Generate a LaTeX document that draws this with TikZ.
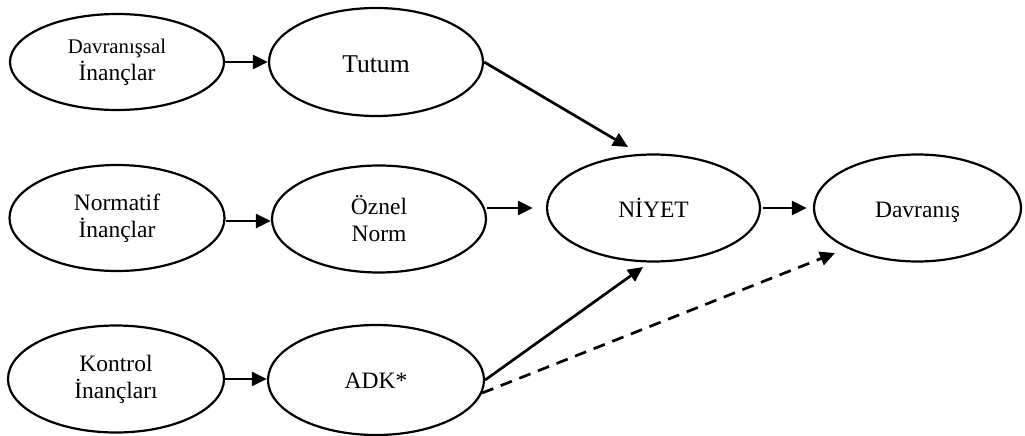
\documentclass[tikz,border=0pt]{standalone}
\usepackage{fontspec}
\setmainfont{Liberation Serif}
\usetikzlibrary{arrows.meta,shapes.geometric}
\tikzset{
  oval/.style={draw, ellipse, line width=2.2pt, inner sep=0pt, align=center,
    font=\fontsize{23.5}{27}\selectfont},
  oneline/.style={text depth=0pt},
  arr/.style={line width=2.7pt, -{Triangle[length=15pt,width=14pt]}},
  dasharr/.style={arr, dash pattern=on 12pt off 8pt}
}
\begin{document}
\begin{tikzpicture}[x=1pt,y=-1pt]
\useasboundingbox (0,0) rectangle (1025,436);
\node[oval, minimum width=214pt, minimum height=96pt] (dav) at (117,62)
  {{\fontsize{20.8}{27}\selectfont Davranışsal}\\İnançlar};
\node[oval, oneline, text height=20pt, minimum width=214pt, minimum height=108pt,
  font=\fontsize{25.6}{29}\selectfont] (tutum) at (376,62) {Tutum};
\node[oval, minimum width=215pt, minimum height=106pt] (norm) at (117,218)
  {Normatif\\İnançlar};
\node[oval, minimum width=214pt, minimum height=107pt] (oznel) at (379,219)
  {Öznel\\Norm};
\node[oval, minimum width=216pt, minimum height=107pt] (kont) at (116,379)
  {Kontrol\\İnançları};
\node[oval, oneline, text height=16pt, minimum width=216pt, minimum height=110pt] (adk) at (376,380)
  {ADK*};
\node[oval, oneline, text height=19pt, minimum width=213pt, minimum height=107pt] (niyet) at (653.5,208)
  {NİYET};
\node[oval, oneline, text height=19pt, minimum width=207pt, minimum height=107pt] (davr) at (917.5,208)
  {Davranış};

\coordinate (t1) at ([xshift=-25.5pt,yshift=61pt]niyet.center);
\coordinate (t2) at ([xshift=-10.5pt,yshift=-59pt]niyet.center);
\coordinate (t3) at ([xshift=-82.5pt,yshift=-45pt]davr.center);

\draw[arr] (dav.east) -- (dav.east -| tutum.west);
\draw[arr] ([yshift=-3pt]norm.east) -- ([yshift=-3pt]norm.east -| oznel.west);
\draw[arr] (kont.east) -- (kont.east -| adk.west);
\draw[arr] (tutum.east) -- (t1);
\draw[arr, shorten >=13pt] (oznel.east |- niyet.west) -- (niyet.west);
\draw[arr, shorten <=2pt, shorten >=6pt] (niyet.east) -- (davr.west);
\draw[arr] (adk.east) -- (t2);
\draw[dasharr] (adk.-7) -- (t3);
\end{tikzpicture}
\end{document}
